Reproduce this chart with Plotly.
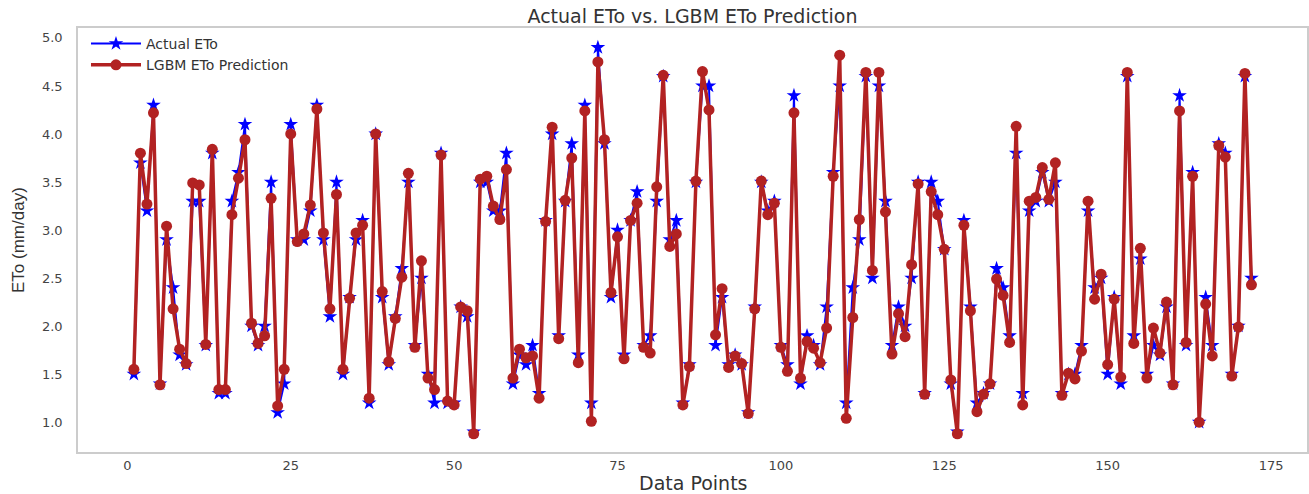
import plotly.graph_objects as go

x_points = list(range(1, 173))

actual_eto = [
    1.5, 3.7, 3.2, 4.3, 1.4, 2.9, 2.4, 1.7, 1.6, 3.3,
    3.3, 1.8, 3.8, 1.3, 1.3, 3.3, 3.6, 4.1, 2.0, 1.8,
    2.0, 3.5, 1.1, 1.4, 4.1, 2.9, 2.9, 3.2, 4.3, 2.9,
    2.1, 3.5, 1.5, 2.3, 2.9, 3.1, 1.2, 4.0, 2.3, 1.6,
    2.1, 2.6, 3.5, 1.8, 2.5, 1.5, 1.2, 3.8, 1.2, 1.2,
    2.2, 2.1, 0.9, 3.5, 3.5, 3.2, 3.2, 3.8, 1.4, 1.7,
    1.6, 1.8, 1.3, 3.1, 4.0, 1.9, 3.3, 3.9, 1.7, 4.3,
    1.2, 4.9, 3.9, 2.3, 3.0, 1.7, 3.1, 3.4, 1.8, 1.9,
    3.3, 4.6, 2.9, 3.1, 1.2, 1.6, 3.5, 4.5, 4.5, 1.8,
    2.3, 1.6, 1.7, 1.6, 1.1, 2.2, 3.5, 3.2, 3.3, 1.8,
    1.6, 4.4, 1.4, 1.9, 1.8, 1.6, 2.2, 3.6, 4.5, 1.2,
    2.4, 2.9, 4.6, 2.5, 4.5, 3.3, 1.8, 2.2, 2.0, 2.5,
    3.5, 1.3, 3.5, 3.3, 2.8, 1.4, 0.9, 3.1, 2.2, 1.2,
    1.3, 1.4, 2.6, 2.4, 1.9, 3.8, 1.3, 3.2, 3.3, 3.6,
    3.3, 3.5, 1.3, 1.5, 1.5, 1.8, 3.2, 2.4, 2.5, 1.5,
    2.3, 1.4, 4.6, 1.9, 2.7, 1.5, 1.8, 1.7, 2.2, 1.4,
    4.4, 1.8, 3.6, 1.0, 2.3, 1.8, 3.9, 3.8, 1.5, 2.0,
    4.6, 2.5,
]

lgbm_pred = [
    1.55, 3.80, 3.27, 4.22, 1.39, 3.04, 2.18, 1.76, 1.61, 3.49,
    3.47, 1.81, 3.84, 1.34, 1.34, 3.16, 3.54, 3.94, 2.03, 1.82,
    1.90, 3.33, 1.17, 1.55, 4.00, 2.88, 2.96, 3.26, 4.26, 2.97,
    2.18, 3.37, 1.55, 2.29, 2.97, 3.05, 1.25, 4.00, 2.36, 1.63,
    2.08, 2.51, 3.59, 1.78, 2.68, 1.46, 1.34, 3.78, 1.22, 1.18,
    2.20, 2.16, 0.88, 3.53, 3.56, 3.25, 3.11, 3.63, 1.46, 1.76,
    1.67, 1.69, 1.25, 3.09, 4.07, 1.87, 3.31, 3.75, 1.62, 4.24,
    1.01, 4.75, 3.94, 2.35, 2.93, 1.66, 3.10, 3.28, 1.78, 1.72,
    3.45, 4.61, 2.83, 2.96, 1.18, 1.58, 3.51, 4.65, 4.25, 1.91,
    2.39, 1.57, 1.69, 1.61, 1.09, 2.18, 3.51, 3.16, 3.28, 1.78,
    1.53, 4.22, 1.46, 1.84, 1.77, 1.62, 1.98, 3.56, 4.82, 1.04,
    2.09, 3.11, 4.64, 2.58, 4.64, 3.19, 1.71, 2.13, 1.89, 2.64,
    3.48, 1.29, 3.40, 3.16, 2.80, 1.44, 0.88, 3.05, 2.16, 1.11,
    1.29, 1.40, 2.49, 2.32, 1.83, 4.08, 1.18, 3.30, 3.34, 3.65,
    3.32, 3.70, 1.28, 1.51, 1.45, 1.74, 3.30, 2.28, 2.54, 1.60,
    2.28, 1.47, 4.64, 1.82, 2.81, 1.46, 1.98, 1.72, 2.25, 1.39,
    4.24, 1.83, 3.56, 1.00, 2.23, 1.69, 3.88, 3.76, 1.48, 1.99,
    4.63, 2.43,
]

x_ticks = [0, 25, 50, 75, 100, 125, 150, 175]
y_ticks = [1.0, 1.5, 2.0, 2.5, 3.0, 3.5, 4.0, 4.5, 5.0]

FONT = "DejaVu Sans, Verdana, sans-serif"
W, H = 1309, 494

fig = go.Figure()
fig.add_trace(go.Scatter(
    x=x_points, y=actual_eto, mode="lines+markers", name="Actual ETo",
    line=dict(color="#0000ff", width=2),
    marker=dict(symbol="star", size=11, color="#0000ff"),
))
fig.add_trace(go.Scatter(
    x=x_points, y=lgbm_pred, mode="lines+markers", name="LGBM ETo Prediction",
    line=dict(color="#b22222", width=3.5),
    marker=dict(symbol="circle", size=11, color="#b22222"),
))

fig.update_layout(
    width=W, height=H,
    margin=dict(l=78, r=2, t=28, b=42),
    paper_bgcolor="white", plot_bgcolor="white",
    font=dict(family=FONT, color="#333333", size=13),
    title=dict(text="Actual ETo vs. LGBM ETo Prediction", x=0.5, xref="paper",
               xanchor="center", y=1 - 16.5 / H, yref="container", yanchor="middle",
               font=dict(size=19, color="#333333")),
    legend=dict(x=0.0065, y=1.0, xanchor="left", yanchor="top",
                bgcolor="rgba(255,255,255,0.8)", font=dict(size=14, color="#333333"),
                tracegroupgap=0, itemwidth=50),
    showlegend=True,
    annotations=[
        dict(text="Data Points", xref="paper", yref="paper", x=0.5, y=0,
             xanchor="center", yanchor="middle", yshift=-31, showarrow=False,
             font=dict(size=19, color="#333333")),
        dict(text="ETo (mm/day)", xref="paper", yref="paper", x=0, y=0.5,
             xanchor="center", yanchor="middle", xshift=-60, textangle=-90,
             showarrow=False,
             font=dict(size=17, family="Liberation Sans, Arial, sans-serif",
                       color="#333333")),
    ],
)
fig.update_xaxes(
    range=[-7.55, 180.5], tickvals=x_ticks, ticktext=[str(v) for v in x_ticks],
    showgrid=False, zeroline=False, showline=True, mirror=True,
    linecolor="#cccccc", linewidth=1.5, ticks="", automargin=False,
    ticklabelstandoff=1,
    tickfont=dict(size=13, color="#444444"),
)
fig.update_yaxes(
    range=[0.69, 5.103], tickvals=y_ticks, ticktext=[f"{v:.1f}" for v in y_ticks],
    showgrid=False, zeroline=False, showline=True, mirror=True,
    linecolor="#cccccc", linewidth=1.5, ticks="", automargin=False,
    ticklabelstandoff=11,
    tickfont=dict(size=13, color="#444444"),
)

fig.write_html(
    "out.html",
    config={"displayModeBar": False},
    post_script="document.body.style.margin='0';document.body.style.overflow='hidden';",
)
